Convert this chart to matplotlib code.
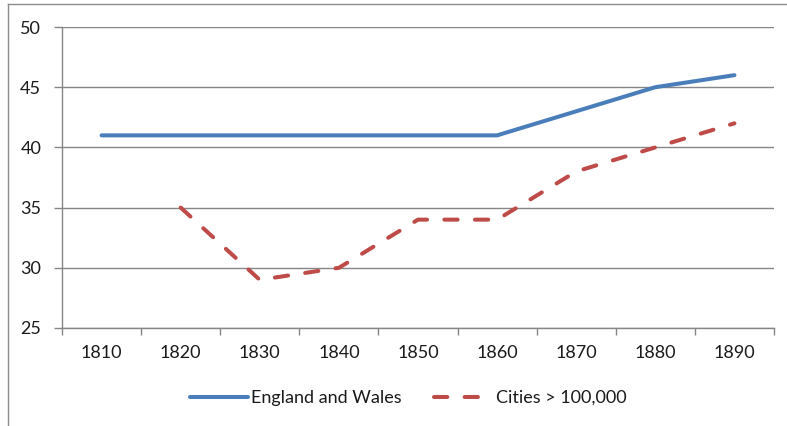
#!/usr/bin/env python3
"""Line chart: England and Wales vs cities > 100,000, 1810-1890."""

import matplotlib
matplotlib.use('Agg')
import matplotlib.pyplot as plt
from matplotlib.lines import Line2D
import numpy as np

years = ['1810', '1820', '1830', '1840', '1850', '1860', '1870', '1880', '1890']
england_wales = [41, 41, 41, 41, 41, 41, 43, 45, 46]
cities = [np.nan, 35, 29, 30, 34, 34, 38, 40, 42]

plt.rcParams['font.family'] = ['Lato', 'DejaVu Sans']

W, H = 787, 426
fig = plt.figure(figsize=(W / 100, H / 100), dpi=100)
ax = fig.add_axes([62 / W, (H - 328) / H, (774 - 62) / W, (328 - 27) / H])

grid_col = '#868686'
blue = '#4A7EBB'
red = '#BE4B48'
text_col = '#1a1a1a'
fs = 13

x = np.arange(len(years))
ax.plot(x, england_wales, color=blue, linewidth=2.9, solid_capstyle='round',
        label='England and Wales', zorder=3)
ax.plot(x, cities, color=red, linewidth=2.9, linestyle=(0, (3.3, 4.3)),
        dash_capstyle='round', label='Cities > 100,000', zorder=3)

ax.set_xlim(-0.5, len(years) - 0.5)
ax.set_ylim(25, 50)
ax.set_yticks(range(25, 51, 5))
ax.set_xticks(x)
ax.set_xticklabels(years)
ax.set_xticks(np.arange(-0.5, len(years), 1.0), minor=True)

ax.grid(True, axis='y', color=grid_col, linewidth=1.0)
ax.set_axisbelow(True)
for side in ['top', 'right']:
    ax.spines[side].set_visible(False)
for side in ['left', 'bottom']:
    ax.spines[side].set_color(grid_col)
    ax.spines[side].set_linewidth(1.0)

ax.tick_params(axis='x', which='major', length=0, pad=12, labelsize=fs, labelcolor=text_col)
ax.tick_params(axis='x', which='minor', length=5, width=1.0, color=grid_col, direction='out')
ax.tick_params(axis='y', length=6, width=1.0, color=grid_col, pad=9, labelsize=fs,
               labelcolor=text_col)

# chart frame (left and top edges visible)
fig.add_artist(Line2D([8 / W, 8 / W], [0, 1 - 4 / H], color='#8c8c8c', linewidth=1.0))
fig.add_artist(Line2D([8 / W, 1], [1 - 4 / H, 1 - 4 / H], color='#8c8c8c', linewidth=1.0))

fig.legend(loc='center', bbox_to_anchor=(408 / W, 1 - 398 / H), ncol=2, frameon=False,
           fontsize=fs, handlelength=3.2, columnspacing=1.8, handletextpad=0.2,
           labelcolor=text_col)

fig.savefig('out.png', dpi=100)
